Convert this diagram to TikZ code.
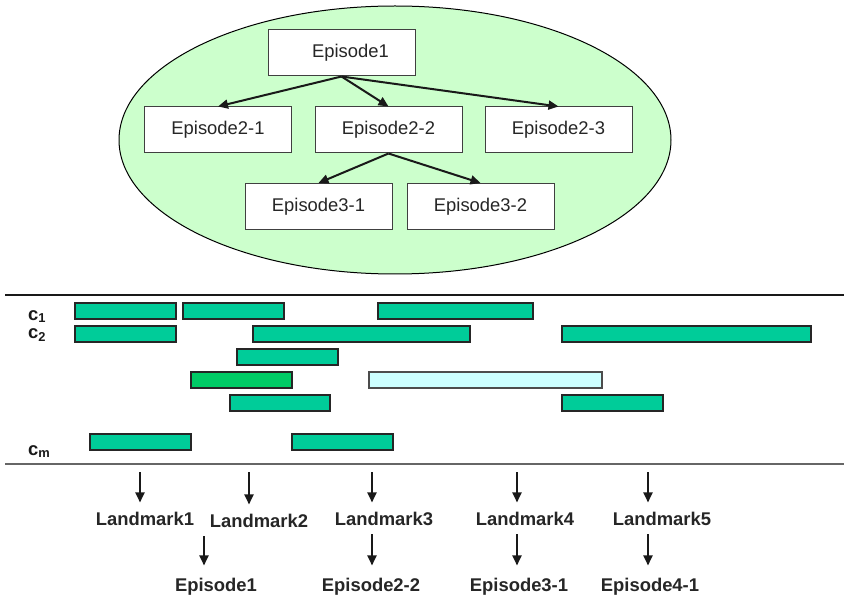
\documentclass[tikz,border=0pt]{standalone}
\usepackage{fontspec}
\setmainfont{Liberation Sans}
\usepackage{tikz}
\usetikzlibrary{arrows.meta,calc}
\definecolor{cloudg}{RGB}{204,255,204}
\definecolor{segc}{RGB}{0,204,153}
\definecolor{segg}{RGB}{0,204,102}
\definecolor{segl}{RGB}{204,255,255}
\tikzset{
  epbox/.style={rectangle,draw=black!75,line width=1pt,fill=white,minimum width=147pt,minimum height=46pt,
    font=\fontsize{18.4}{22}\selectfont,text=black!85},
  tree/.style={-{Triangle[length=10pt,width=9pt]},line width=2pt,draw=black!90},
  seg/.style={draw=black!85,line width=1.2pt,fill=segc},
  lbl/.style={font=\fontsize{18.4}{22}\selectfont\bfseries,text=black!85,inner sep=9pt,anchor=base},
  chan/.style={font=\fontsize{18.4}{22}\selectfont\bfseries,text=black!90,inner sep=0pt,anchor=base west},
  rule/.style={line width=1.3pt},
}

\begin{document}
\begin{tikzpicture}[x=1pt,y=-1pt]
\useasboundingbox (0,0) rectangle (844,596);
% --- episode tree ---
\draw[fill=cloudg,line width=1pt] (395,140) ellipse [x radius=276, y radius=134];
\node[epbox] (E1)  at (341.5,53)  {\hspace*{18pt}Episode1};
\node[epbox] (E21) at (218,130)   {Episode2-1};
\node[epbox] (E22) at (388.5,130) {Episode2-2};
\node[epbox] (E23) at (558.5,130) {Episode2-3};
\node[epbox] (E31) at (318.5,206.5) {Episode3-1};
\node[epbox] (E32) at (480.5,206.5) {Episode3-2};
\foreach \c in {E21,E22,E23}
  \draw[tree] (E1.south) -- (\c.north);
\foreach \c in {E31,E32}
  \draw[tree] (E22.south) -- (\c.north);

% --- channels ---
\draw[rule,draw=black!90] (5,295) -- (844,295);
\draw[rule,draw=black!60] (5,464) -- (844,464);
\node[chan] (c1) at (28,320) {c\textsubscript{1}};
\node[chan] (c2) at (28,338) {c\textsubscript{2}};
\node[chan] (cm) at (28,455) {c\textsubscript{m}};
\foreach \xa/\ya/\xb/\yb in {75/303/176/319,183/303/284/319,378/303/533/319,
    75/326/176/342,253/326/470/342,562/326/811/342,
    237/349/338/365,
    230/395/330/411,562/395/663/411,
    90/434/191/450,292/434/393/450}
  \draw[seg] (\xa,\ya) rectangle (\xb,\yb);
\draw[seg,fill=segg] (191,372) rectangle (292,388);
\draw[seg,fill=segl,draw=black!70] (369,372) rectangle (602,388);

% --- landmarks ---
\node[lbl] (L1) at (145,525) {Landmark1};
\node[lbl] (L2) at (259,527) {Landmark2};
\node[lbl] (L3) at (384,525) {Landmark3};
\node[lbl] (L4) at (525,525) {Landmark4};
\node[lbl] (L5) at (662,525) {Landmark5};
\foreach \i/\x in {1/140,2/249,3/372,4/517,5/648}{
  \coordinate (t\i) at (\x,472);
  \draw[tree] (t\i) -- (t\i |- L\i.north);
}
\node[lbl,inner sep=12pt] (P1) at (216,591) {Episode1};
\node[lbl,inner sep=12pt] (P2) at (371,591) {Episode2-2};
\node[lbl,inner sep=12pt] (P3) at (519,591) {Episode3-1};
\node[lbl,inner sep=12pt] (P4) at (650,591) {Episode4-1};
\draw[tree] ([xshift=-12pt]P1.north |- L2.south) -- ([xshift=-12pt]P1.north);
\draw[tree] ([xshift=1pt]P2.north |- L3.south) -- ([xshift=1pt]P2.north);
\draw[tree] ([xshift=-2pt]P3.north |- L4.south) -- ([xshift=-2pt]P3.north);
\draw[tree] ([xshift=-2pt]P4.north |- L5.south) -- ([xshift=-2pt]P4.north);
\end{tikzpicture}
\end{document}
